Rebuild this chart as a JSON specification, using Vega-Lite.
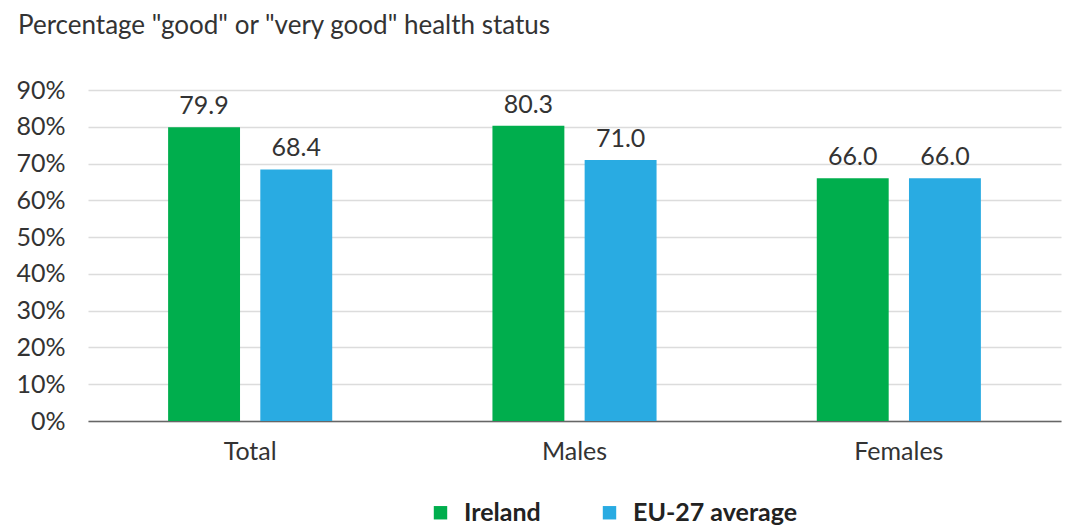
{
  "$schema": "https://vega.github.io/schema/vega-lite/v6.json",
  "width": 973,
  "height": 331,
  "autosize": {"type": "none"},
  "padding": {"left": 88, "top": 90, "right": 10, "bottom": 106},
  "background": "white",
  "config": {
    "font": "Lato",
    "view": {"stroke": null},
    "axis": {"labelFont": "Lato", "labelColor": "#333333", "labelFontSize": 25}
  },
  "title": {
    "text": "Percentage  \"good\" or \"very good\" health status",
    "anchor": "start",
    "frame": "group",
    "fontSize": 26,
    "fontWeight": "normal",
    "color": "#333333",
    "font": "Lato",
    "dx": -70,
    "offset": 39
  },
  "data": {
    "values": [
      {"group": "Total", "series": "Ireland", "value": 79.9},
      {"group": "Total", "series": "EU-27 average", "value": 68.4},
      {"group": "Males", "series": "Ireland", "value": 80.3},
      {"group": "Males", "series": "EU-27 average", "value": 71.0},
      {"group": "Females", "series": "Ireland", "value": 66.0},
      {"group": "Females", "series": "EU-27 average", "value": 66.0}
    ]
  },
  "encoding": {
    "x": {
      "field": "group",
      "type": "nominal",
      "sort": ["Total", "Males", "Females"],
      "scale": {"paddingInner": 0.494, "paddingOuter": 0.247},
      "axis": {
        "title": null,
        "labelAngle": 0,
        "ticks": false,
        "domainColor": "#666666",
        "domainWidth": 1.5,
        "labelPadding": 18
      }
    },
    "xOffset": {
      "field": "series",
      "type": "nominal",
      "sort": ["Ireland", "EU-27 average"],
      "scale": {"paddingInner": 0.22, "paddingOuter": 0}
    },
    "y": {
      "field": "value",
      "type": "quantitative",
      "scale": {"domain": [0, 90]},
      "axis": {
        "title": null,
        "values": [0, 10, 20, 30, 40, 50, 60, 70, 80, 90],
        "labelExpr": "datum.value + '%'",
        "domain": false,
        "ticks": false,
        "gridColor": "#dcdcdc",
        "gridWidth": 1.5,
        "labelPadding": 23
      }
    }
  },
  "layer": [
    {
      "mark": {"type": "bar"},
      "encoding": {
        "color": {
          "field": "series",
          "type": "nominal",
          "sort": ["Ireland", "EU-27 average"],
          "scale": {"domain": ["Ireland", "EU-27 average"], "range": ["#00AE4D", "#29ABE2"]},
          "legend": {
            "title": null,
            "orient": "none",
            "direction": "horizontal",
            "legendX": 340,
            "legendY": 410,
            "symbolType": "square",
            "symbolSize": 180,
            "symbolStrokeWidth": 0,
            "symbolOpacity": 1,
            "labelFontSize": 25,
            "labelFontWeight": "bold",
            "labelColor": "#222222",
            "labelFont": "Lato",
            "labelOffset": 11,
            "labelLimit": 400,
            "columnPadding": 56
          }
        }
      }
    },
    {
      "mark": {"type": "text", "baseline": "bottom", "dy": -8, "fontSize": 25, "color": "#333333", "font": "Lato"},
      "encoding": {
        "text": {"field": "value", "type": "quantitative", "format": ".1f"}
      }
    }
  ]
}
